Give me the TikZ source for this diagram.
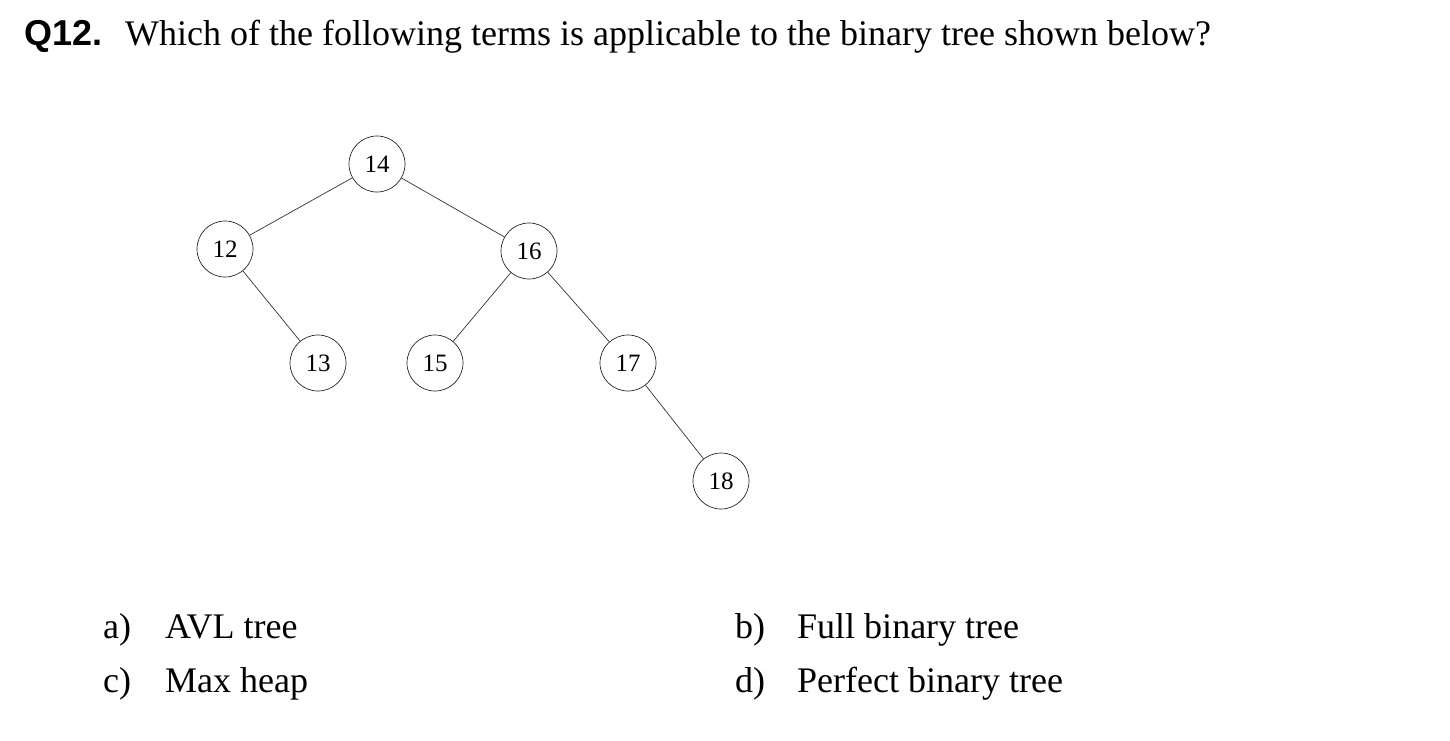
\documentclass[tikz,border=0pt]{standalone}
\usepackage{fontspec}
\setmainfont{Liberation Serif}
\setsansfont{Liberation Sans}
\begin{document}
\begin{tikzpicture}[x=1pt,y=-1pt,
  tnode/.style={circle,draw=black!85,line width=0.7pt,minimum size=56pt,inner sep=0pt,font=\fontsize{25}{28}\selectfont},
  edge/.style={draw=black!80,line width=0.7pt},
  txt/.style={anchor=base west,inner sep=0pt,font=\fontsize{36}{42}\selectfont},
  opt/.style={anchor=base west,inner sep=0pt,font=\fontsize{36}{42}\selectfont}]
\useasboundingbox (0,0) rectangle (1450,740);
\node[anchor=base west,inner sep=0pt,font=\sffamily\bfseries\fontsize{36}{42}\selectfont] (q) at (24,45) {Q12.};
\node[txt] (title) at (125,45) {Which of the following terms is applicable to the binary tree shown below?};
\node[tnode] (n14) at (377,164) {14};
\node[tnode] (n12) at (225,249) {12};
\node[tnode] (n16) at (529,251) {16};
\node[tnode] (n13) at (318,363) {13};
\node[tnode] (n15) at (435,363) {15};
\node[tnode] (n17) at (628,363) {17};
\node[tnode] (n18) at (721,481) {18};
\draw[edge] (n14) -- (n12);
\draw[edge] (n14) -- (n16);
\draw[edge] (n12) -- (n13);
\draw[edge] (n16) -- (n15);
\draw[edge] (n16) -- (n17);
\draw[edge] (n17) -- (n18);
\node[opt] (la) at (103,638) {a)};
\node[opt] (ta) at (165,638) {AVL tree};
\node[opt] (lc) at (103,692) {c)};
\node[opt] (tc) at (165,692) {Max heap};
\node[opt] (lb) at (735,638) {b)};
\node[opt] (tb) at (797,638) {Full binary tree};
\node[opt] (ld) at (735,692) {d)};
\node[opt] (td) at (797,692) {Perfect binary tree};
\end{tikzpicture}
\end{document}
